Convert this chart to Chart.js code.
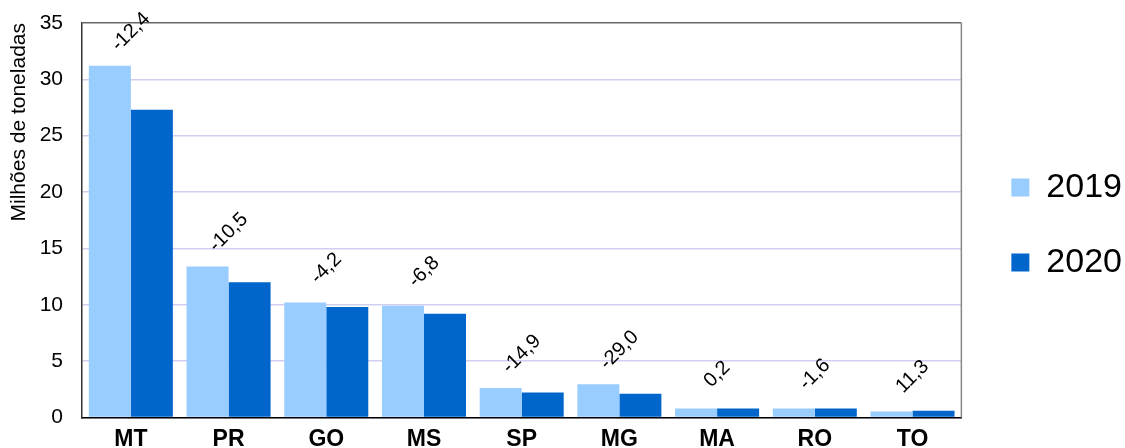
<!DOCTYPE html>
<html>
<head>
<meta charset="utf-8">
<script src="https://cdn.jsdelivr.net/npm/chart.js@4.4.0/dist/chart.umd.min.js"></script>
<style>
  html, body { margin: 0; padding: 0; background: #fff; overflow: hidden; }
  #wrap { width: 1125px; height: 461px; position: relative; }
</style>
</head>
<body>
<div id="wrap"><canvas id="grafico"></canvas></div>
<script>
// dados (milhoes de toneladas)
const estados = ["MT", "PR", "GO", "MS", "SP", "MG", "MA", "RO", "TO"];
const valores2019 = [31.2, 13.4, 10.2, 9.9, 2.6, 2.95, 0.8, 0.8, 0.53];
const valores2020 = [27.3, 12.0, 9.8, 9.2, 2.2, 2.1, 0.8, 0.79, 0.6];
const variacoes = ["-12,4", "-10,5", "-4,2", "-6,8", "-14,9", "-29,0", "0,2", "-1,6", "11,3"];
const anos = ["2019", "2020"];
const yMin = 0, yMax = 35, yPasso = 5;

const corClara = "#99ccff";
const corEscura = "#0066cc";
const fonte = "'Liberation Sans', Arial, sans-serif";

// rotulos de variacao (%) inclinados acima de cada par de barras
const rotulosVariacao = {
    id: "rotulosVariacao",
    afterDatasetsDraw(chart) {
        const ctx = chart.ctx;
        const m0 = chart.getDatasetMeta(0), m1 = chart.getDatasetMeta(1);
        ctx.save();
        ctx.font = "20px " + fonte;
        ctx.fillStyle = "#000";
        ctx.textAlign = "center";
        ctx.textBaseline = "middle";
        variacoes.forEach(function(txt, i) {
            const b0 = m0.data[i], b1 = m1.data[i];
            const topo = Math.min(b0.y, b1.y);
            const x = (b0.x + b1.x) / 2;
            ctx.save();
            ctx.translate(x, topo - 34);
            ctx.rotate(-Math.PI / 4);
            ctx.fillText(txt, 0, 0);
            ctx.restore();
        });
        ctx.restore();
    }
};

// borda direita cinza + ajuste da posicao da legenda
const moldura = {
    id: "moldura",
    afterLayout(chart) {
        const lg = chart.legend;
        if (lg) { lg.left += 9; lg.right += 9; lg.top -= 17; lg.bottom -= 17; }
    },
    afterDraw(chart) {
        const a = chart.chartArea, ctx = chart.ctx;
        ctx.save();
        ctx.strokeStyle = "#888";
        ctx.lineWidth = 1.5;
        ctx.beginPath();
        ctx.moveTo(a.right, a.top);
        ctx.lineTo(a.right, a.bottom);
        ctx.stroke();
        ctx.restore();
    }
};

new Chart(document.getElementById("grafico"), {
    type: "bar",
    data: {
        labels: estados,
        datasets: [
            { label: anos[0], data: valores2019, backgroundColor: corClara },
            { label: anos[1], data: valores2020, backgroundColor: corEscura }
        ]
    },
    options: {
        responsive: true,
        maintainAspectRatio: false,
        animation: false,
        datasets: { bar: { categoryPercentage: 0.86, barPercentage: 1.0 } },
        layout: { padding: { top: 23, right: 2, left: 0, bottom: 0 } },
        plugins: {
            legend: {
                position: "right",
                labels: {
                    boxWidth: 18, boxHeight: 18, padding: 41,
                    color: "#000",
                    font: { family: fonte, size: 34 }
                }
            },
            tooltip: { enabled: false }
        },
        scales: {
            x: {
                grid: { display: false, drawTicks: false },
                border: { color: "#000", width: 1.5 },
                ticks: { color: "#000", padding: 8, font: { family: fonte, size: 23, weight: "bold" } }
            },
            y: {
                min: yMin, max: yMax,
                afterFit: function(scale) { scale.width = 82; scale.paddingTop = 0; },
                grid: {
                    drawTicks: false,
                    color: function(c) { return c.tick && c.tick.value === yMax ? "#666" : "#cfcff2"; },
                    lineWidth: 1.5
                },
                border: { color: "#333", width: 1.5 },
                ticks: { stepSize: yPasso, color: "#000", padding: 19, font: { family: fonte, size: 21 } },
                title: {
                    display: true, text: "Milhões de toneladas", color: "#000", align: "end",
                    font: { family: fonte, size: 21 }, padding: { top: 7, bottom: 0 }
                }
            }
        }
    },
    plugins: [rotulosVariacao, moldura]
});
</script>
</body>
</html>
